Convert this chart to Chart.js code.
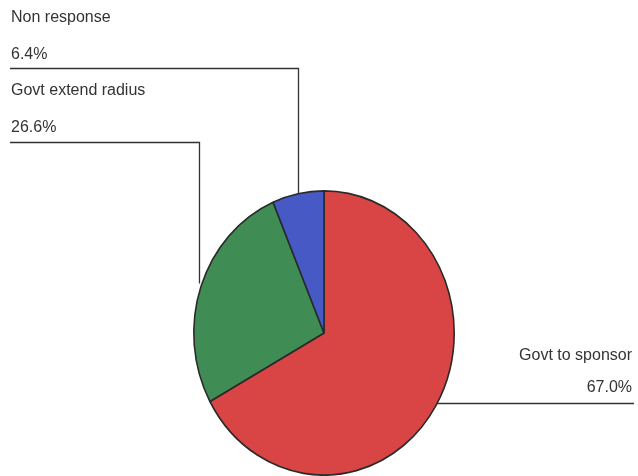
<!DOCTYPE html>
<html>
<head>
<meta charset="utf-8">
<script src="https://cdn.jsdelivr.net/npm/chart.js@4.4.0/dist/chart.umd.min.js"></script>
<style>
html, body { margin: 0; padding: 0; background: #ffffff; }
#wrap { width: 638px; height: 476px; }
</style>
</head>
<body>
<div id="wrap"><canvas id="chart1" width="638" height="476"></canvas></div>
<script>
var labels = ['Govt to sponsor', 'Govt extend radius', 'Non response'];
var shares = [67.0, 26.6, 6.4];
var colours = ['#d94545', '#3f8d55', '#4659c4'];

var stretchY = 143 / 131;

// the scanned pie is a bit taller than wide
var squashPlugin = {
    id: 'squash',
    beforeDatasetsDraw: function(chart) {
        var arc = chart.getDatasetMeta(0).data[0];
        var ctx = chart.ctx;
        ctx.save();
        ctx.translate(arc.x, arc.y);
        ctx.scale(1, stretchY);
        ctx.translate(-arc.x, -arc.y);
    },
    afterDatasetsDraw: function(chart) {
        chart.ctx.restore();
    }
};

var calloutPlugin = {
    id: 'callouts',
    afterDraw: function(chart) {
        var ctx = chart.ctx;
        var arc = chart.getDatasetMeta(0).data[0];
        var cx = arc.x, cy = arc.y, rx = arc.outerRadius, ry = arc.outerRadius * stretchY;

        function edgeY(x) {
            var d = (x - cx) / rx;
            return cy - ry * Math.sqrt(Math.max(0, 1 - d * d));
        }
        function edgeX(y) {
            var d = (y - cy) / ry;
            return cx + rx * Math.sqrt(Math.max(0, 1 - d * d));
        }

        ctx.save();
        ctx.font = '16px "Liberation Sans", Arial, sans-serif';
        ctx.fillStyle = '#333333';
        ctx.textBaseline = 'middle';
        ctx.strokeStyle = '#333333';
        ctx.lineWidth = 1.3;

        // Non response
        ctx.textAlign = 'left';
        ctx.fillText(labels[2], 11, 18);
        ctx.fillText(shares[2].toFixed(1) + '%', 11, 55);
        ctx.beginPath();
        ctx.moveTo(10, 68.5);
        ctx.lineTo(298.5, 68.5);
        ctx.lineTo(298.5, edgeY(298.5));
        ctx.stroke();

        // Govt extend radius
        ctx.fillText(labels[1], 11, 91);
        ctx.fillText(shares[1].toFixed(1) + '%', 11, 128);
        ctx.beginPath();
        ctx.moveTo(10, 142.5);
        ctx.lineTo(199.5, 142.5);
        ctx.lineTo(199.5, edgeY(199.5) - 8);
        ctx.stroke();

        // Govt to sponsor
        ctx.textAlign = 'right';
        ctx.fillText(labels[0], 632, 356);
        ctx.fillText(shares[0].toFixed(1) + '%', 632, 388);
        ctx.beginPath();
        ctx.moveTo(edgeX(403.5), 403.5);
        ctx.lineTo(634, 403.5);
        ctx.stroke();
        ctx.restore();
    }
};

function makePieChart() {
    var ctx1 = document.getElementById('chart1').getContext('2d');
    var chart1 = new Chart(ctx1, {
        type: 'pie',
        data: {
            labels: labels,
            datasets: [{
                data: shares,
                backgroundColor: colours,
                borderColor: '#2a2a2a',
                borderWidth: 1.6
            }]
        },
        options: {
            responsive: false,
            animation: false,
            layout: { padding: { left: 193, right: 183, top: 202, bottom: 12 } },
            plugins: {
                legend: { display: false },
                tooltip: { enabled: false }
            }
        },
        plugins: [squashPlugin, calloutPlugin]
    });
}

window.onload = function() {
    makePieChart();
};
</script>
</body>
</html>
